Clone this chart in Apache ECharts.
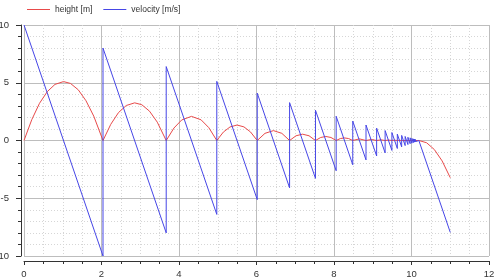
<!DOCTYPE html>
<html>
<head>
<meta charset="utf-8">
<script src="https://cdn.jsdelivr.net/npm/echarts@6/dist/echarts.min.js"></script>
<style>
  html, body { margin: 0; padding: 0; background: #fff; }
  #chart { width: 495px; height: 278px; }
</style>
</head>
<body>
<div id="chart"></div>
<script>
// Series names
const seriesNames = ['height [m]', 'velocity [m/s]'];

// height [m] (time, value)
const heightTime = [
  0, 0.2, 0.4, 0.6, 0.8, 1.02, 1.2, 1.4, 1.6, 1.8, 2.039,
  2.239, 2.439, 2.639, 2.855, 3.039, 3.239, 3.439, 3.67,
  3.87, 4.07, 4.322, 4.57, 4.77, 4.975,
  5.145, 5.315, 5.497, 5.675, 5.845, 6.019,
  6.219, 6.437, 6.654, 6.854,
  7.021, 7.188, 7.355, 7.522,
  7.656, 7.789, 7.922, 8.056,
  8.163, 8.27, 8.377, 8.484,
  8.655, 8.826, 8.963, 9.1, 9.21, 9.319, 9.407, 9.494,
  9.564, 9.634, 9.69, 9.746, 10.19,
  10.39, 10.59, 10.79, 11.0
];
const heightValues = [
  0, 1.80, 3.22, 4.23, 4.86, 5.10, 4.94, 4.39, 3.44, 2.11, 0,
  1.40, 2.42, 3.03, 3.26, 3.10, 2.54, 1.59, 0,
  1.08, 1.78, 2.09, 1.79, 1.11, 0,
  0.73, 1.17, 1.34, 1.18, 0.74, 0,
  0.62, 0.855, 0.62, 0,
  0.41, 0.547, 0.41, 0,
  0.26, 0.35, 0.26, 0,
  0.168, 0.224, 0.168, 0,
  0.14, 0, 0.09, 0, 0.06, 0, 0.04, 0,
  0.024, 0, 0.015, 0, 0,
  -0.196, -0.785, -1.766, -3.22
];

// velocity [m/s] (time, value)
const velocityTime = [
  0, 2.039, 2.039, 3.67, 3.67, 4.975, 4.975, 6.019, 6.019, 6.854,
  6.854, 7.522, 7.522, 8.056, 8.056, 8.484, 8.484, 8.826, 8.826, 9.1,
  9.1, 9.319, 9.319, 9.494, 9.494, 9.634, 9.634, 9.746, 9.746, 9.836,
  9.836, 9.908, 9.908, 9.965, 9.965, 10.011, 10.011, 10.048, 10.048, 10.077,
  10.077, 10.1, 10.1, 10.12, 10.12, 10.19, 11.0
];
const velocityValues = [
  10, -10, 8, -8, 6.4, -6.4, 5.12, -5.12, 4.1, -4.1,
  3.28, -3.28, 2.62, -2.62, 2.1, -2.1, 1.68, -1.68, 1.34, -1.34,
  1.07, -1.07, 0.86, -0.86, 0.69, -0.69, 0.55, -0.55, 0.44, -0.44,
  0.35, -0.35, 0.28, -0.28, 0.23, -0.23, 0.18, -0.18, 0.14, -0.14,
  0.12, -0.12, 0.09, -0.09, 0.07, 0, -7.95
];

function pairs(xs, ys) {
  return xs.map((x, i) => [x, ys[i]]);
}

const labelFont = { fontFamily: 'Liberation Sans', fontSize: 9.5, color: '#333' };
const RED = '#e84a4a';
const BLUE = '#4646e6';
const AXIS = '#333';

const chart = echarts.init(document.getElementById('chart'), null, { renderer: 'canvas' });

chart.setOption({
  animation: false,
  backgroundColor: '#fff',
  legend: {
    left: 22,
    top: 0,
    icon: 'rect',
    itemWidth: 23,
    itemHeight: 1,
    itemGap: 11,
    textStyle: { fontFamily: 'Liberation Sans', fontSize: 8.5, color: '#333' },
    data: [
      { name: seriesNames[0], itemStyle: { color: RED } },
      { name: seriesNames[1], itemStyle: { color: BLUE } }
    ]
  },
  grid: {
    left: 24, right: 6, top: 25, bottom: 22,
    containLabel: false,
    outerBoundsMode: 'none'
  },
  xAxis: {
    type: 'value',
    min: 0,
    max: 12,
    interval: 2,
    offset: 5,
    axisLine: { show: true, onZero: false, lineStyle: { color: AXIS, width: 1 } },
    axisTick: { show: true, length: 4, lineStyle: { color: AXIS } },
    minorTick: { show: true, splitNumber: 4, length: 3, lineStyle: { color: AXIS } },
    axisLabel: Object.assign({ margin: 8 }, labelFont),
    splitLine: { show: true, lineStyle: { color: '#bdbdbd', width: 1 } },
    minorSplitLine: { show: true, lineStyle: { color: '#d6d6d6', width: 1, type: [1, 2] } }
  },
  yAxis: {
    type: 'value',
    min: -10,
    max: 10,
    interval: 5,
    offset: 3,
    axisLine: { show: true, onZero: false, lineStyle: { color: AXIS, width: 1 } },
    axisTick: { show: true, length: 5, lineStyle: { color: AXIS } },
    minorTick: { show: true, splitNumber: 5, length: 3, lineStyle: { color: AXIS } },
    axisLabel: Object.assign({ margin: 12 }, labelFont),
    splitLine: { show: true, lineStyle: { color: '#bdbdbd', width: 1 } },
    minorSplitLine: { show: true, lineStyle: { color: '#d6d6d6', width: 1, type: [1, 2] } }
  },
  series: [
    {
      name: seriesNames[0],
      type: 'line',
      symbol: 'none',
      data: pairs(heightTime, heightValues),
      lineStyle: { color: RED, width: 1 },
      itemStyle: { color: RED }
    },
    {
      name: seriesNames[1],
      type: 'line',
      symbol: 'none',
      data: pairs(velocityTime, velocityValues),
      lineStyle: { color: BLUE, width: 1 },
      itemStyle: { color: BLUE }
    }
  ]
});
</script>
</body>
</html>
